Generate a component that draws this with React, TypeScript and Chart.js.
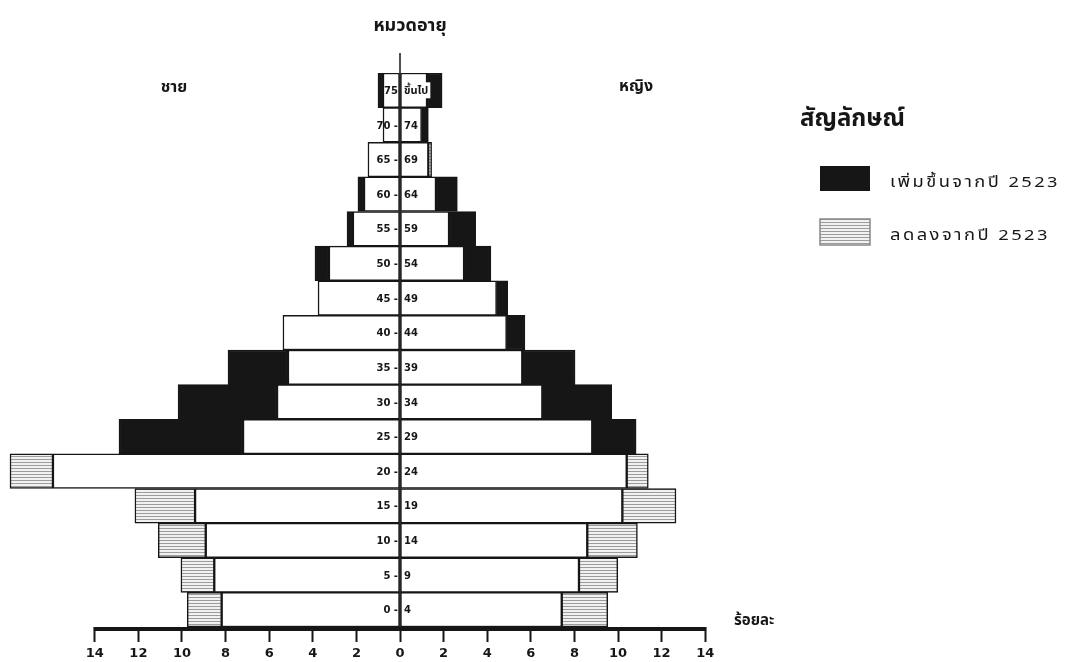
import React, { useEffect, useRef } from "react";
import { Chart, registerables } from "chart.js";

Chart.register(...registerables);

// Age groups, bottom (youngest) to top (oldest)
const ageLow = ["0", "5", "10", "15", "20", "25", "30", "35", "40", "45", "50", "55", "60", "65", "70", "75"];
const ageHigh = ["4", "9", "14", "19", "24", "29", "34", "39", "44", "49", "54", "59", "64", "69", "74", "ขึ้นไป"];
const ageGroups = ageLow.map((l, i) => `${l}-${ageHigh[i]}`);

// Percent values (males drawn to the left)
const maleBase = [8.18, 8.52, 8.91, 9.4, 15.92, 7.2, 5.64, 5.14, 5.37, 3.76, 3.26, 2.16, 1.65, 1.47, 0.78, 0.78];
const maleIncrease = [0, 0, 0, 0, 0, 5.69, 4.54, 2.75, 0, 0, 0.64, 0.27, 0.28, 0, 0, 0.23];
const maleDecrease = [1.58, 1.53, 2.18, 2.76, 1.97, 0, 0, 0, 0, 0, 0, 0, 0, 0, 0, 0];

const femaleBase = [7.42, 8.21, 8.59, 10.2, 10.4, 8.82, 6.53, 5.61, 4.89, 4.43, 2.94, 2.25, 1.65, 1.3, 0.99, 1.24];
const femaleIncrease = [0, 0, 0, 0, 0, 2.01, 3.18, 2.42, 0.84, 0.51, 1.23, 1.22, 0.98, 0, 0.31, 0.69];
const femaleDecrease = [2.11, 1.78, 2.3, 2.46, 0.99, 0, 0, 0, 0, 0, 0, 0, 0, 0.15, 0, 0];

const xTickValues = [-14, -12, -10, -8, -6, -4, -2, 0, 2, 4, 6, 8, 10, 12, 14];

const legendTitle = "สัญลักษณ์";
const legendIncrease = "เพิ่มขึ้นจากปี 2523";
const legendDecrease = "ลดลงจากปี 2523";

const THAI = "'Noto Sans Thai', 'Noto Sans', 'DejaVu Sans', sans-serif";
const INK = "#161616";

function makeHatch(): CanvasPattern | string {
  const c = document.createElement("canvas");
  c.width = 6;
  c.height = 3;
  const g = c.getContext("2d");
  if (!g) return "#ddd";
  g.fillStyle = "#f1f1f1";
  g.fillRect(0, 0, 6, 3);
  g.fillStyle = "#9c9c9c";
  g.fillRect(0, 0, 6, 1);
  const p = g.createPattern(c, "repeat");
  return p || "#ddd";
}

function fitText(ctx: CanvasRenderingContext2D, text: string, x: number, y: number, width: number) {
  const w = ctx.measureText(text).width;
  ctx.save();
  ctx.translate(x, y);
  ctx.scale(width / w, 1);
  ctx.fillText(text, 0, 0);
  ctx.restore();
}

export default function App() {
  const ref = useRef<HTMLCanvasElement>(null);

  useEffect(() => {
    if (!ref.current) return;
    const hatch = makeHatch();
    const neg = (a: number[]) => a.map((v) => -v);
    const common = {
      borderColor: INK,
      borderWidth: 1.5,
      borderSkipped: false as const,
      barPercentage: 1,
      categoryPercentage: 1,
      stack: "s",
    };

    const decorPlugin = {
      id: "decor",
      afterDatasetsDraw(chart: any) {
        const ctx = chart.ctx;
        const xs = chart.scales.x;
        const ys = chart.scales.y;
        const x0 = xs.getPixelForValue(0);
        const area = chart.chartArea;
        ctx.save();
        // central line
        ctx.strokeStyle = INK;
        ctx.lineWidth = 1.5;
        ctx.beginPath();
        ctx.moveTo(x0, 53);
        ctx.lineTo(x0, area.bottom + 2);
        ctx.stroke();
        // thick axis line
        ctx.lineWidth = 4;
        ctx.beginPath();
        ctx.moveTo(xs.getPixelForValue(-14) - 1, area.bottom + 2);
        ctx.lineTo(xs.getPixelForValue(14) + 1, area.bottom + 2);
        ctx.stroke();

        // age labels
        ctx.fillStyle = INK;
        ctx.textBaseline = "middle";
        ageGroups.forEach((_, i) => {
          const y = ys.getPixelForValue(i);
          const isTop = i === ageGroups.length - 1;
          ctx.font = "bold 10px 'DejaVu Sans', sans-serif";
          ctx.textAlign = "right";
          ctx.fillText(isTop ? ageLow[i] : `${ageLow[i]} -`, x0 - 2, y + 1);
          ctx.textAlign = "left";
          if (isTop) {
            ctx.font = `bold 11px ${THAI}`;
            const w = ctx.measureText(ageHigh[i]).width;
            ctx.fillStyle = "#fff";
            ctx.fillRect(x0 + 3, y - 8, w + 3, 16);
            ctx.fillStyle = INK;
            ctx.fillText(ageHigh[i], x0 + 4, y + 1);
          } else {
            ctx.fillText(ageHigh[i], x0 + 4, y + 1);
          }
        });

        // titles
        ctx.textAlign = "center";
        ctx.font = `bold 18px ${THAI}`;
        ctx.fillText("หมวดอายุ", 410, 27);
        ctx.font = `bold 16px ${THAI}`;
        ctx.fillText("ชาย", 174, 89);
        ctx.fillText("หญิง", 636, 88);
        ctx.textAlign = "left";
        ctx.font = `bold 15px ${THAI}`;
        ctx.fillText("ร้อยละ", 734, 622);

        // legend
        ctx.font = `bold 24px ${THAI}`;
        ctx.fillText(legendTitle, 800, 121);
        ctx.fillStyle = INK;
        ctx.fillRect(820, 166, 50, 25);
        ctx.fillStyle = hatch as any;
        ctx.fillRect(820, 219, 50, 26);
        ctx.strokeStyle = "#888";
        ctx.lineWidth = 1.5;
        ctx.strokeRect(820, 219, 50, 26);
        ctx.fillStyle = INK;
        ctx.font = `15px ${THAI}`;
        (ctx as any).letterSpacing = "2px";
        fitText(ctx, legendIncrease, 890, 184, 170);
        fitText(ctx, legendDecrease, 890, 237, 160);
        ctx.restore();
      },
    };

    const chart = new Chart(ref.current, {
      type: "bar",
      data: {
        labels: ageGroups,
        datasets: [
          { label: "ชาย", data: neg(maleBase), backgroundColor: "#ffffff", ...common },
          { label: "ชาย เพิ่มขึ้น", data: neg(maleIncrease), backgroundColor: INK, ...common },
          { label: "ชาย ลดลง", data: neg(maleDecrease), backgroundColor: hatch as any, ...common },
          { label: "หญิง", data: femaleBase, backgroundColor: "#ffffff", ...common },
          { label: "หญิง เพิ่มขึ้น", data: femaleIncrease, backgroundColor: INK, ...common },
          { label: "หญิง ลดลง", data: femaleDecrease, backgroundColor: hatch as any, ...common },
        ],
      },
      options: {
        indexAxis: "y",
        responsive: false,
        animation: false,
        layout: { padding: { left: 7.6, right: 272.6, top: 73, bottom: 0 } },
        plugins: { legend: { display: false }, tooltip: { enabled: false } },
        scales: {
          y: {
            type: "category",
            stacked: true,
            reverse: true,
            display: false,
          },
          x: {
            type: "linear",
            stacked: true,
            min: -18,
            max: 18,
            border: { display: false },
            grid: {
              drawOnChartArea: false,
              drawTicks: true,
              tickLength: 15,
              tickWidth: 2,
              tickColor: INK,
            },
            ticks: {
              autoSkip: false,
              maxRotation: 0,
              padding: 4,
              color: INK,
              font: { family: "'DejaVu Sans', sans-serif", size: 13, weight: "bold" },
              callback: (v: any) => String(Math.abs(Number(v))),
            },
            afterBuildTicks: (s: any) => {
              s.ticks = xTickValues.map((v) => ({ value: v }));
            },
            afterFit: (s: any) => {
              s.height = 35;
              s.paddingLeft = 0;
              s.paddingRight = 0;
            },
          },
        },
      },
      plugins: [decorPlugin],
    } as any);

    return () => chart.destroy();
  }, []);

  return (
    <div style={{ position: "absolute", left: 0, top: 0, width: 1065, height: 662, background: "#fff" }}>
      <canvas ref={ref} width={1065} height={662} style={{ display: "block" }} />
    </div>
  );
}
